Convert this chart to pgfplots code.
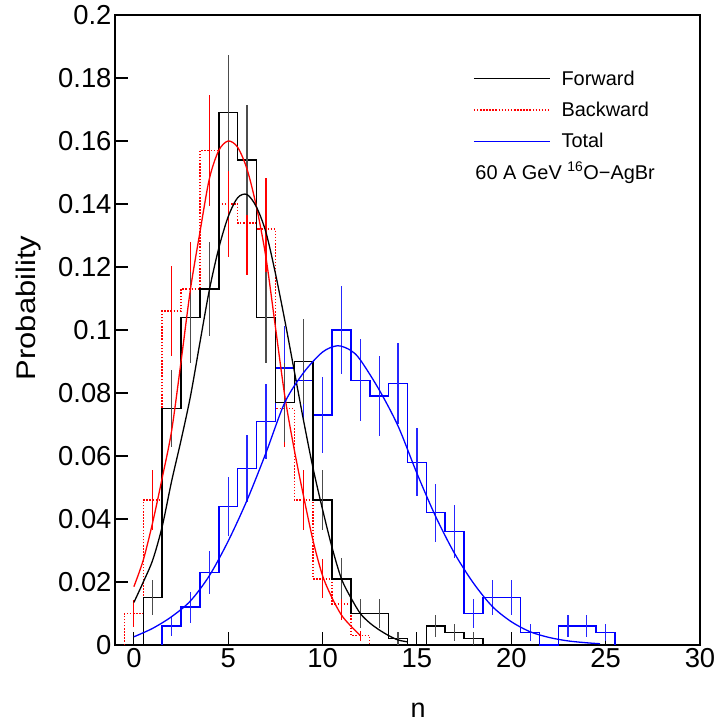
\documentclass[border=0pt]{standalone}
\usepackage{fontspec}
\setmainfont{Liberation Sans}
\newfontfamily\widefamily{Liberation Sans}[FakeStretch=1.15]
\usepackage{pgfplots}
\pgfplotsset{compat=1.18}
\usepackage{pgfplotstable}

% Forward (black): bin centre n, probability v, error e
\pgfplotstableread{
n v e
1 0 0
1 0.015 0.0055
2 0.075 0.0122
3 0.104 0.0144
4 0.113 0.0150
5 0.169 0.0184
6 0.154 0.0175
7 0.104 0.0144
8 0.077 0.0124
9 0.090 0.0134
10 0.046 0.0096
11 0.021 0.0065
12 0.010 0.0045
13 0.010 0.0045
14 0.002 0.0020
15 0 0
16 0.006 0.0035
17 0.004 0.0028
18 0.002 0.0020
19 0 0
}\fwd

% Backward (red)
\pgfplotstableread{
n v e
0 0 0
0 0.010 0.0042
1 0.046 0.0094
2 0.106 0.0144
3 0.113 0.0148
4 0.157 0.0175
5 0.140 0.0167
6 0.134 0.0164
7 0.132 0.0162
8 0.075 0.0122
9 0.046 0.0094
10 0.021 0.0062
11 0.013 0.0052
12 0.003 0.0016
13 0 0
}\bwd

% Total (blue)
\pgfplotstableread{
n v e
2 0 0
2 0.006 0.0032
3 0.012 0.0049
4 0.023 0.0068
5 0.044 0.0094
6 0.056 0.0106
7 0.071 0.0119
8 0.088 0.0133
9 0.084 0.0130
10 0.073 0.0121
11 0.100 0.0141
12 0.084 0.0130
13 0.079 0.0126
14 0.083 0.0129
15 0.058 0.0108
16 0.042 0.0092
17 0.036 0.0085
18 0.010 0.0045
19 0.015 0.0055
20 0.015 0.0055
21 0.004 0.0028
22 0 0
23 0.006 0.0035
24 0.006 0.0035
25 0.004 0.0028
26 0 0
}\tot

\begin{document}
\begin{tikzpicture}
\begin{axis}[
  name=ax, scale only axis, width=585bp, height=630bp,
  xmin=-1, xmax=30, ymin=0, ymax=0.2,
  axis line style={line width=1.3pt},
  tick align=inside, xtick pos=left, ytick pos=left,
  xtick={0,5,10,15,20,25,30},
  ytick={0,0.02,0.04,0.06,0.08,0.1,0.12,0.14,0.16,0.18,0.2},
  minor tick num=0,
  major tick length=13bp,
  every tick/.style={black, line width=1.1pt},
  scaled y ticks=false,
  yticklabel style={/pgf/number format/fixed, /pgf/number format/precision=2},
  /pgf/number format/assume math mode=true,
  tick label style={font=\fontsize{27.5}{27.5}\selectfont},
  xlabel={n}, ylabel={Probability},
  xlabel style={font=\fontsize{27}{27}\selectfont, at={(axis description cs:0.518,-0.103)}, anchor=center},
  ylabel style={font=\widefamily\fontsize{27}{27}\selectfont, at={(axis description cs:-0.147,0.535)}, anchor=center},
  legend style={at={(axis cs:17.98,0.1825)}, anchor=north west, draw=none, fill=none,
    inner sep=0pt, outer sep=0pt, row sep=16.3bp, column sep=11bp,
    font=\fontsize{20}{20}\selectfont,
    nodes={inner sep=0pt, text height=15bp, text depth=0pt}},
  legend cell align=left,
  legend image code/.code={\draw[#1] (0bp,-1bp) -- (76bp,-1bp);},
]
% legend samples
\addlegendimage{draw=black, line width=1.2pt}
\addlegendentry{Forward}
\addlegendimage{draw=red, line width=1.4pt, dash pattern=on 1.5pt off 1.6pt}
\addlegendentry{Backward}
\addlegendimage{draw=blue, line width=1.3pt}
\addlegendentry{Total}

% histograms
\addplot[forget plot, const plot, red, line width=1.4pt, dash pattern=on 1.5pt off 1.6pt]
  table[x expr=\thisrow{n}-0.5, y=v] {\bwd};
\addplot[forget plot, const plot, blue, line width=1.5pt]
  table[x expr=\thisrow{n}-0.5, y=v] {\tot};
\addplot[forget plot, const plot, black, line width=1.5pt]
  table[x expr=\thisrow{n}-0.5, y=v] {\fwd};

% error bars
\addplot[forget plot, draw=none, error bars/.cd, y dir=both, y explicit, error mark=none,
  error bar style={draw=red, solid, line width=1.2pt}]
  table[x=n, y=v, y error=e] {\bwd};
\addplot[forget plot, draw=none, error bars/.cd, y dir=both, y explicit, error mark=none,
  error bar style={draw=blue!85, solid, line width=1.2pt}]
  table[x=n, y=v, y error=e] {\tot};
\addplot[forget plot, draw=none, error bars/.cd, y dir=both, y explicit, error mark=none,
  error bar style={draw=black!70, solid, line width=1.2pt}]
  table[x=n, y=v, y error=e] {\fwd};

% fitted curves
\addplot[forget plot, red, smooth, line width=1.3pt] coordinates {
(0,0.0185) (0.5,0.027) (1,0.039) (1.5,0.053) (2,0.068) (2.5,0.090) (3,0.113)
(3.5,0.131) (4,0.148) (4.5,0.157) (5,0.160) (5.5,0.158) (6,0.151) (6.5,0.139)
(7,0.123) (7.5,0.101) (8,0.079) (8.5,0.062) (9,0.047) (9.5,0.033) (10,0.022)
(10.5,0.015) (11,0.0095) (11.5,0.006) (12,0.003)};
\addplot[forget plot, black, smooth, line width=1.3pt] coordinates {
(0,0.0135) (0.5,0.020) (1,0.027) (1.5,0.0376) (2,0.052) (2.5,0.065) (3,0.079)
(3.5,0.096) (4,0.1127) (4.5,0.126) (5,0.136) (5.5,0.142) (6,0.143) (6.5,0.139)
(7,0.131) (7.5,0.118) (8,0.103) (8.5,0.087) (9,0.071) (9.5,0.056) (10,0.043)
(10.5,0.031) (11,0.021) (11.5,0.015) (12,0.010) (12.5,0.007) (13,0.0048)
(13.5,0.003) (14,0.0016) (14.5,0.001)};
\addplot[forget plot, blue, smooth, line width=1.3pt] coordinates {
(0,0.0026) (1,0.0053) (2,0.009) (3,0.014) (4,0.022) (5,0.033) (6,0.046)
(7,0.061) (8,0.077) (9,0.0865) (10,0.093) (10.8,0.095) (11.5,0.0935) (12,0.0905)
(13,0.081) (14,0.0695) (15,0.0545) (16,0.0407) (17,0.029) (18,0.0196)
(19,0.0122) (20,0.0074) (21,0.0042) (22,0.0024) (23,0.0013) (24,0.0007) (24.7,0.0004)};

\node[anchor=base west, inner sep=0pt, font=\fontsize{20}{20}\selectfont]
  at (axis cs:18.09,0.1479) {60 A GeV \textsuperscript{16}O−AgBr};
\end{axis}
\pgfresetboundingbox
\path ([shift={(-115bp,-80bp)}]ax.south west) rectangle ([shift={(20bp,15bp)}]ax.north east);
\end{tikzpicture}
\end{document}
